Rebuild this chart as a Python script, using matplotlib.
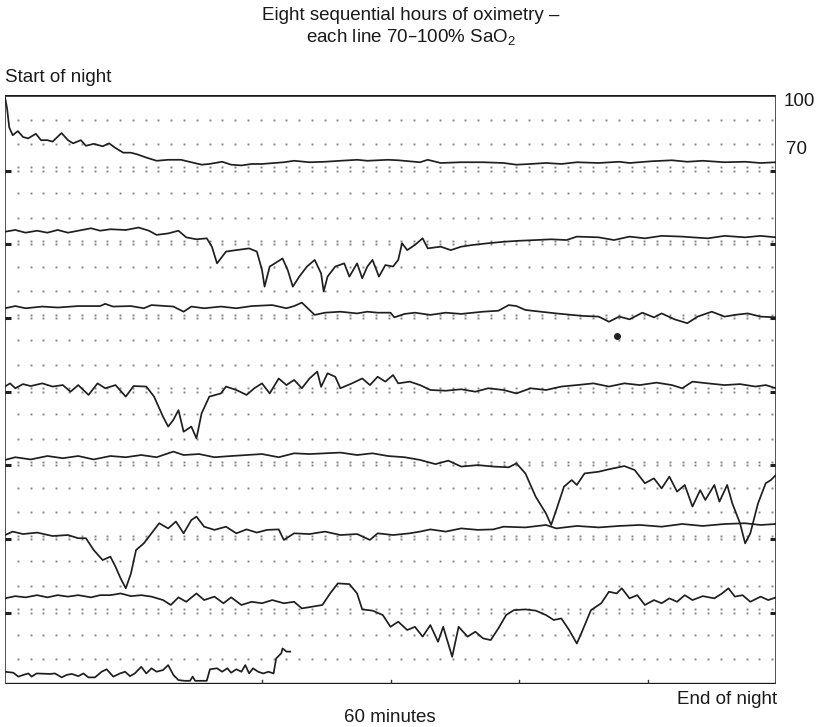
import matplotlib
matplotlib.use("Agg")
import matplotlib.pyplot as plt
import numpy as np

# one list of minutes and one of SaO2 (%) per hour of the night
h1_min = [0, 0.16, 0.33, 0.6, 1.0, 1.4, 1.8, 2.4, 2.8, 3.3, 3.7, 4.4, 4.9, 5.3, 5.9, 6.3, 6.9, 7.6,
          8.1, 8.6, 9.2, 9.8, 10.3, 11.0, 11.8, 12.7, 13.7, 14.5, 15.3, 15.9, 16.9, 17.6, 18.4, 19.2,
          20.0, 21.7, 22.5, 23.7, 24.9, 26.1, 27.4, 28.2, 29.8, 30.6, 32.3, 32.9, 33.9, 35.5, 37.2,
          38.8, 39.8, 40.9, 42.1, 43.3, 44.5, 46.2, 47.8, 48.6, 50.3, 51.9, 53.1, 54.3, 56.0, 57.6,
          58.8, 60]
h1_sat = [99, 94.6, 86.8, 83.6, 85.3, 82.9, 82.3, 84.2, 81.6, 81.6, 81.0, 84.5, 81.6, 80.3, 81.6,
          79.3, 80.1, 79.1, 80.3, 78.4, 76.5, 76.5, 75.8, 74.5, 73.2, 73.6, 73.6, 72.6, 71.6, 71.9,
          72.8, 71.6, 71.3, 71.9, 71.9, 72.6, 73.2, 72.6, 72.8, 73.2, 73.6, 73.2, 73.6, 73.4, 72.6,
          73.6, 72.3, 72.6, 72.6, 72.3, 71.6, 71.9, 72.3, 71.9, 72.6, 72.3, 72.8, 72.3, 73.0, 73.4,
          72.8, 73.2, 72.6, 72.8, 72.3, 72.6]

h2_min = [0, 0.8, 1.6, 2.5, 3.3, 4.1, 4.9, 5.7, 6.7, 7.4, 8.2, 9.4, 10.4, 11.2, 11.8, 12.7, 13.5,
          14.1, 14.9, 15.7, 16.1, 16.5, 17.2, 18.0, 19.0, 19.6, 20.0, 20.2, 20.6, 21.0, 21.6, 22.0,
          22.4, 22.9, 23.5, 24.1, 24.6, 24.8, 25.1, 25.7, 26.4, 26.8, 27.4, 27.8, 28.2, 28.6, 29.1,
          29.6, 30.2, 30.6, 30.9, 31.3, 31.9, 32.5, 32.9, 33.9, 34.7, 35.5, 36.4, 37.6, 38.8, 40.0,
          41.3, 42.5, 43.7, 44.5, 46.2, 47.4, 48.6, 49.8, 51.1, 52.7, 53.5, 54.7, 56.0, 57.6, 58.8, 60]
h2_sat = [74.3, 75.0, 73.9, 74.7, 73.9, 75.0, 73.9, 74.7, 75.7, 74.7, 75.3, 75.0, 76.0, 74.7, 73.0,
          73.6, 74.7, 72.0, 71.2, 71.6, 68.2, 61.4, 66.2, 66.8, 67.5, 66.2, 58.7, 51.9, 60.1, 61.4,
          63.4, 58.7, 51.9, 56.0, 60.1, 62.8, 57.3, 49.9, 56.0, 60.1, 61.4, 56.0, 61.4, 55.3, 60.1,
          62.8, 56.0, 60.7, 60.1, 62.8, 69.6, 66.8, 68.9, 71.6, 67.5, 68.2, 66.8, 68.2, 68.9, 69.6,
          70.2, 70.6, 70.9, 71.2, 70.9, 72.3, 72.0, 70.9, 72.3, 71.6, 72.6, 72.3, 72.0, 71.6, 72.6,
          72.0, 72.6, 72.0]

h3_min = [0, 0.8, 1.6, 2.9, 4.1, 5.7, 7.4, 7.8, 8.4, 9.8, 10.8, 11.4, 13.1, 13.9, 14.5, 15.5, 16.8,
          18.0, 19.2, 20.8, 21.9, 22.5, 23.1, 23.7, 24.1, 24.9, 26.1, 27.4, 28.2, 29.0, 30.0, 30.3,
          31.1, 31.9, 33.1, 34.3, 35.5, 37.2, 38.4, 39.2, 39.8, 40.5, 41.7, 42.9, 44.1, 44.9, 46.2,
          47.0, 47.8, 48.6, 49.6, 50.5, 51.1, 52.1, 53.1, 53.9, 55.0, 56.0, 56.8, 57.8, 58.8, 60]
h3_sat = [73.1, 74.0, 73.1, 73.8, 73.4, 74.0, 74.0, 74.9, 73.8, 74.0, 73.1, 74.4, 73.8, 71.7, 73.8,
          73.1, 73.8, 73.1, 74.0, 74.4, 73.1, 74.0, 75.4, 72.4, 70.4, 71.3, 71.7, 71.0, 71.7, 71.3,
          71.3, 69.4, 70.8, 71.3, 70.4, 71.3, 70.8, 71.7, 72.1, 74.4, 74.0, 72.4, 71.7, 71.0, 70.4,
          70.0, 69.7, 67.6, 69.7, 68.6, 71.3, 69.4, 71.0, 68.6, 67.0, 69.7, 71.7, 69.7, 70.4, 71.0,
          69.7, 69.4]

h4_min = [0, 0.4, 0.8, 1.4, 2.0, 2.9, 3.7, 4.5, 5.1, 5.7, 6.5, 7.2, 7.8, 8.6, 9.4, 10.0, 11.0, 11.6,
          12.3, 12.7, 13.1, 13.5, 13.9, 14.5, 14.9, 15.3, 15.9, 16.8, 17.2, 18.0, 18.8, 19.4, 20.0,
          20.6, 21.3, 21.9, 22.5, 23.1, 23.7, 24.3, 24.6, 25.1, 25.7, 26.1, 27.0, 27.8, 28.4, 29.0,
          29.6, 30.2, 30.6, 31.5, 32.3, 33.1, 34.3, 35.5, 36.6, 37.6, 38.8, 39.8, 40.9, 42.1, 43.3,
          44.5, 45.8, 47.0, 48.2, 49.4, 50.7, 51.9, 52.7, 53.5, 54.7, 56.0, 57.2, 58.4, 59.2, 60]
h4_sat = [71.2, 72.5, 70.5, 72.2, 71.4, 72.5, 71.2, 71.8, 69.1, 71.8, 67.8, 72.5, 70.5, 71.8, 67.1,
          71.4, 71.2, 67.1, 58.9, 54.9, 57.6, 61.6, 52.8, 54.9, 50.1, 60.3, 67.1, 68.4, 71.2, 69.8,
          67.8, 70.5, 72.5, 68.4, 74.5, 71.8, 73.9, 70.5, 74.5, 77.3, 71.1, 76.6, 75.2, 70.5, 72.5,
          74.5, 71.8, 75.2, 73.2, 75.9, 72.5, 73.2, 71.8, 69.8, 69.5, 70.1, 69.1, 70.5, 69.8, 68.4,
          70.5, 69.8, 71.2, 71.8, 72.5, 71.2, 72.5, 71.8, 72.8, 71.8, 70.5, 73.2, 72.5, 71.8, 72.2,
          71.2, 71.8, 70.5]

h5_min = [0, 0.8, 2.0, 3.3, 4.5, 5.7, 6.9, 8.2, 9.4, 10.6, 11.8, 13.1, 13.9, 15.1, 16.3, 17.6, 18.8,
          20.0, 21.3, 22.5, 23.7, 24.9, 26.1, 27.4, 28.6, 29.8, 31.1, 32.3, 33.5, 34.5, 35.5, 36.8,
          38.0, 39.2, 39.8, 40.5, 41.3, 42.1, 42.5, 42.9, 43.5, 44.1, 44.5, 45.1, 46.2, 47.0, 48.2,
          49.0, 49.8, 50.5, 51.1, 51.7, 52.3, 52.9, 53.5, 54.1, 54.5, 55.2, 55.6, 56.2, 56.6, 57.2,
          57.6, 58.0, 58.6, 59.2, 59.6, 60]
h5_sat = [71.3, 72.4, 71.5, 72.9, 72.0, 72.9, 71.5, 72.9, 72.4, 73.3, 72.4, 74.7, 73.3, 73.7, 72.4,
          72.9, 73.3, 73.7, 72.4, 74.0, 73.7, 74.0, 74.3, 73.3, 74.0, 72.9, 72.4, 71.3, 69.6, 71.0,
          68.6, 69.2, 68.6, 68.3, 69.9, 65.8, 56.3, 49.5, 44.8, 50.9, 60.4, 63.1, 61.1, 65.8, 66.5,
          67.5, 68.8, 67.2, 61.8, 63.8, 59.7, 64.5, 58.4, 61.1, 52.3, 59.0, 55.0, 61.1, 54.3, 61.1,
          53.6, 45.5, 37.3, 41.4, 53.6, 61.8, 63.1, 65.2]

h6_min = [0, 0.6, 1.4, 2.5, 3.7, 4.9, 5.7, 6.3, 6.9, 7.6, 8.2, 8.6, 9.0, 9.4, 9.8, 10.2, 10.8, 11.4,
          12.0, 12.7, 13.3, 13.9, 14.5, 14.9, 15.5, 16.3, 17.2, 18.0, 18.8, 19.6, 20.4, 21.3, 21.7,
          22.5, 23.7, 24.9, 26.1, 27.4, 28.4, 29.0, 30.2, 31.5, 32.3, 33.1, 34.3, 35.5, 36.8, 38.0,
          38.8, 40.5, 42.1, 42.9, 44.5, 46.2, 47.8, 49.4, 51.1, 52.7, 54.3, 56.0, 57.6, 58.8, 60]
h6_sat = [70.7, 72.1, 71.1, 71.7, 70.3, 70.7, 69.4, 69.4, 64.6, 60.5, 61.9, 57.8, 53.0, 49.0, 55.0,
          64.6, 67.3, 71.4, 75.5, 73.4, 76.2, 71.4, 76.8, 78.2, 74.1, 72.8, 74.1, 71.4, 73.0, 71.7,
          72.8, 73.0, 68.7, 71.4, 71.1, 72.1, 70.7, 71.1, 68.7, 71.4, 70.7, 71.4, 72.1, 73.0, 72.1,
          73.4, 72.8, 73.0, 74.1, 73.8, 74.8, 73.4, 74.4, 73.8, 74.4, 74.8, 74.1, 75.2, 74.4, 75.2,
          75.5, 74.8, 75.2]

h7_min = [0, 0.8, 1.6, 2.5, 3.3, 4.1, 4.9, 5.7, 6.7, 7.4, 8.2, 9.0, 9.8, 10.6, 11.4, 12.3, 12.9,
          13.5, 14.1, 14.9, 15.5, 16.3, 17.0, 17.6, 18.4, 19.2, 20.0, 20.8, 21.7, 22.5, 23.1, 23.9,
          24.7, 25.3, 25.9, 26.8, 27.4, 27.8, 28.6, 29.4, 30.0, 30.6, 31.3, 31.9, 32.5, 33.1, 33.7,
          34.1, 34.8, 35.3, 36.0, 36.6, 37.2, 37.8, 38.4, 39.0, 39.6, 40.5, 41.3, 42.1, 42.7, 43.3,
          43.9, 44.5, 44.9, 45.6, 46.4, 47.0, 47.6, 48.0, 48.6, 49.2, 49.8, 50.5, 51.1, 51.7, 52.3,
          52.9, 53.5, 54.3, 55.2, 55.8, 56.3, 56.8, 57.4, 58.0, 58.8, 59.4, 60]
h7_sat = [74.9, 75.8, 75.3, 76.2, 75.3, 76.2, 75.6, 76.2, 75.3, 76.2, 76.2, 76.9, 75.8, 76.2, 75.6,
          74.2, 72.2, 75.3, 73.5, 76.9, 74.2, 75.6, 72.9, 75.3, 72.2, 73.5, 72.9, 74.2, 72.9, 73.5,
          70.8, 71.5, 72.2, 76.9, 81.0, 80.7, 76.9, 70.4, 69.9, 68.1, 63.3, 65.4, 62.0, 63.3, 59.3,
          64.0, 57.2, 63.3, 51.1, 63.3, 59.3, 61.3, 58.6, 57.9, 62.7, 68.1, 70.1, 70.4, 69.9, 68.1,
          66.1, 66.7, 62.0, 56.5, 61.3, 70.1, 72.9, 77.6, 76.9, 79.0, 74.9, 76.2, 72.2, 74.2, 72.9,
          74.9, 73.5, 76.2, 74.2, 75.8, 74.9, 76.9, 79.0, 75.6, 76.2, 73.5, 75.6, 74.2, 75.3]

h8_min = [0, 0.65, 1.04, 1.43, 1.82, 2.07, 2.46, 3.5, 3.89, 4.41, 4.8, 5.19, 5.71, 6.1, 6.49, 7.0,
          7.52, 7.91, 8.43, 8.95, 9.34, 9.73, 10.1, 10.6, 11.0, 11.4, 11.8, 12.3, 12.7, 13.1, 13.5,
          14.0, 14.4, 14.6, 14.8, 15.7, 15.95, 16.5, 16.9, 17.3, 17.6, 18.0, 18.4, 18.7, 19.0, 19.3,
          19.7, 20.1, 20.5, 20.9, 21.1, 21.5, 21.6, 21.9, 22.2]
h8_sat = [75.0, 74.6, 73.0, 73.7, 74.3, 73.0, 74.3, 74.1, 74.3, 72.7, 73.7, 74.1, 73.2, 74.3, 72.7,
          72.7, 75.0, 76.0, 73.0, 74.3, 75.0, 73.2, 74.3, 77.0, 74.3, 76.4, 75.0, 75.7, 77.7, 73.7,
          71.6, 71.3, 71.3, 73.0, 71.3, 71.3, 76.0, 76.4, 75.0, 76.4, 74.6, 76.0, 75.0, 77.7, 74.3,
          76.4, 75.0, 74.3, 75.0, 74.3, 80.4, 82.5, 84.5, 83.2, 83.2]

hours = [(h1_min, h1_sat), (h2_min, h2_sat), (h3_min, h3_sat), (h4_min, h4_sat),
         (h5_min, h5_sat), (h6_min, h6_sat), (h7_min, h7_sat), (h8_min, h8_sat)]

# ink blot on the paper below hour 3
blot_min = [47.6]
blot_sat = [62.0]
blot_hour = 2

ROW = 30  # each line spans 70-100 %, rows stacked below each other

plt.rcParams['font.family'] = ['Liberation Sans', 'DejaVu Sans']

fig = plt.figure(figsize=(8.23, 7.27), dpi=100)
W, H = 823, 727
ax = fig.add_axes([5 / W, 1 - 684 / H, 771 / W, 589 / H])
ax.set_xlim(0, 60)
ax.set_ylim(100 - 8 * ROW, 100)
ax.axis('off')

# dotted paper grid: single dots at 90 and 80, paired dots on the 70 line
dot_x = np.linspace(1, 59.7, 60)
for k in range(8):
    for lvl in (90, 80):
        ax.plot(dot_x, np.full_like(dot_x, lvl - k * ROW), ls='none', marker='s',
                ms=1.4, color='#858585', mew=0)
    if k < 7:
        for off in (0.5, -0.9):
            ax.plot(dot_x, np.full_like(dot_x, 70 - k * ROW + off), ls='none', marker='s',
                    ms=1.4, color='#858585', mew=0)
        y70 = 70 - k * ROW - 0.9
        ax.plot([-0.2, 0.45], [y70, y70], color='#222222', lw=2.2, solid_capstyle='butt')
        ax.plot([59.55, 60.1], [y70, y70], color='#222222', lw=2.2, solid_capstyle='butt')

# frame
ax.plot([0, 60], [100, 100], color='#1a1a1a', lw=2.6, solid_capstyle='butt')
ax.plot([0, 60], [100 - 8 * ROW, 100 - 8 * ROW], color='#1a1a1a', lw=2.4,
        solid_capstyle='butt')
ax.plot([0, 0], [100 - 8 * ROW, 100], color='#333333', lw=1.2)
ax.plot([60, 60], [100 - 8 * ROW, 100], color='#333333', lw=1.2)
for m in (20, 30, 40, 50):
    ax.plot([m, m], [100 - 8 * ROW, 100 - 8 * ROW + 1.6], color='#333333', lw=1.0)

for k, (mins, sat) in enumerate(hours):
    ax.plot(mins, np.array(sat) - k * ROW, color='#1f1f1f', lw=1.25)

ax.plot(blot_min, np.array(blot_sat) - blot_hour * ROW, ls='none', marker='o', ms=4,
        color='#222222')

fs = 13.5
fig.text(411 / W, 1 - 27 / H, 'Eight sequential hours of oximetry \u2013\n'
         'each line 70\u2013100% $\\mathregular{SaO_2}$', ha='center', va='center',
         fontsize=fs, linespacing=1.15, color='#1a1a1a')
fig.text(5 / W, 1 - 77 / H, 'Start of night', ha='left', va='center', fontsize=fs,
         color='#1a1a1a')
fig.text(784 / W, 1 - 102 / H, '100', ha='left', va='center', fontsize=fs, color='#1a1a1a')
fig.text(786 / W, 1 - 150 / H, '70', ha='left', va='center', fontsize=fs, color='#1a1a1a')
fig.text(390 / W, 1 - 717 / H, '60 minutes', ha='center', va='center', fontsize=fs,
         color='#1a1a1a')
fig.text(777 / W, 1 - 700 / H, 'End of night', ha='right', va='center', fontsize=fs,
         color='#1a1a1a')

fig.savefig('out.png', dpi=100)
